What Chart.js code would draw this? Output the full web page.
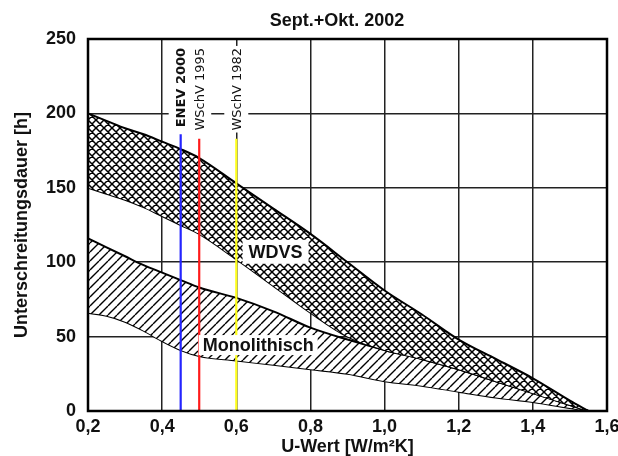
<!DOCTYPE html>
<html>
<head>
<meta charset="utf-8">
<script src="https://cdn.jsdelivr.net/npm/chart.js@4.4.1/dist/chart.umd.min.js"></script>
<style>
    html, body { margin: 0; padding: 0; background: #fff; }
    #wrap { width: 618px; height: 456px; }
</style>
</head>
<body>
<div id="wrap"><canvas id="chart" width="618" height="456"></canvas></div>
<script>
// U-Wert (x) and Unterschreitungsdauer in h (y)
const uWert     = [0.2, 0.25, 0.3, 0.35, 0.4, 0.45, 0.5, 0.6, 0.7, 0.8, 0.9, 1.0, 1.1, 1.2, 1.3, 1.4, 1.5, 1.55];
const wdvsOben  = [200, 195, 190, 186, 181, 176, 170, 153, 136, 119, 100, 81, 65, 48, 35, 22, 7, 0];
const wdvsUnten = [150, 146, 142, 137, 131, 125, 119, 102, 84, 66, 50, 41, 35, 28, 20, 12, 4, 0];
const monoOben  = [116, 110, 104, 98, 93, 88, 83, 76, 67, 56, 48, 41, 35, 28, 20, 12, 4, 0];
const monoUnten = [66, 64, 60, 54, 47, 41, 37, 34, 31, 28, 25, 20, 17, 13, 9, 6, 2, 0];

// Standard lines
const markerNames = ['ENEV 2000', 'WSchV 1995', 'WSchV 1982'];
const markerU     = [0.45, 0.5, 0.6];
const markerTop   = [186, 183, 183];

const xTicks = [0.2, 0.4, 0.6, 0.8, 1.0, 1.2, 1.4, 1.6];
const yTicks = [0, 50, 100, 150, 200, 250];

const colors = {
    ink: '#111111',
    grid: '#222222',
    blue: '#2424ff',
    red: '#ff1a1a',
    yellow: '#ffff1a'
};
const markerColors = [colors.blue, colors.red, colors.yellow];
const markerBold = [true, false, false];

const FONT = "'Liberation Sans', Arial, sans-serif";

function points(ys) {
    return uWert.map((u, i) => ({ x: u, y: ys[i] }));
}

function makePattern(size, cross, lw) {
    const c = document.createElement('canvas');
    c.width = size; c.height = size;
    const g = c.getContext('2d');
    g.fillStyle = '#fff';
    g.fillRect(0, 0, size, size);
    g.strokeStyle = '#000';
    g.lineWidth = lw;
    g.beginPath();
    for (let k = -1; k <= 1; k++) {
        g.moveTo(k * size, size); g.lineTo(k * size + size, 0);
        if (cross) { g.moveTo(k * size, 0); g.lineTo(k * size + size, size); }
    }
    g.stroke();
    return g.createPattern(c, 'repeat');
}

const crossHatch = makePattern(8, true, 1.5);
const diagHatch = makePattern(9, false, 1.4);

const band = (label, ys, fill, bg) => ({
    label, data: points(ys), fill, backgroundColor: bg,
    borderColor: '#000', borderWidth: 2, pointRadius: 0,
    cubicInterpolationMode: 'monotone'
});

const markerSets = markerU.map((u, i) => ({
    label: markerNames[i],
    data: [{ x: u, y: 0 }, { x: u, y: markerTop[i] }],
    borderColor: markerColors[i], borderWidth: 2.2,
    pointRadius: 0, fill: false
}));

// Frame, title and in-plot labels
const decor = {
    id: 'decor',
    afterDatasetsDraw(chart) {
        const { ctx, chartArea: a, scales: { x, y } } = chart;
        ctx.save();
        ctx.strokeStyle = '#000';
        ctx.lineWidth = 2.5;
        ctx.strokeRect(a.left, a.top, a.right - a.left, a.bottom - a.top);

        // rotated marker labels
        markerU.forEach((u, i) => {
            const px = x.getPixelForValue(u), py = y.getPixelForValue(244);
            ctx.save();
            ctx.translate(px, py);
            ctx.rotate(-Math.PI / 2);
            ctx.font = (markerBold[i] ? 'bold ' : '') + "13px 'DejaVu Sans', sans-serif";
            const w = ctx.measureText(markerNames[i]).width;
            ctx.fillStyle = '#fff';
            ctx.fillRect(-w - 2, -12, w + 4, 24);
            ctx.fillStyle = colors.ink;
            ctx.textAlign = 'right';
            ctx.textBaseline = 'middle';
            ctx.fillText(markerNames[i], 0, 1);
            ctx.restore();
        });

        // band names
        ctx.font = 'bold 18px ' + FONT;
        ctx.textAlign = 'center';
        ctx.textBaseline = 'middle';
        [['WDVS', 0.706, 107, 6, 5], ['Monolithisch', 0.659, 44.3, 4, 3]].forEach(([t, u, h, px, py]) => {
            const cx = x.getPixelForValue(u), cy = y.getPixelForValue(h);
            const w = ctx.measureText(t).width;
            ctx.fillStyle = '#fff';
            ctx.fillRect(cx - w / 2 - px, cy - 7 - py, w + 2 * px, 14 + 2 * py);
            ctx.fillStyle = colors.ink;
            ctx.fillText(t, cx, cy + 1);
        });

        // title
        ctx.fillText('Sept.+Okt. 2002', 337, 21);
        ctx.restore();
    }
};

new Chart(document.getElementById('chart'), {
    type: 'line',
    data: {
        datasets: [
            ...markerSets,
            band('WDVS', wdvsOben, '+1', crossHatch),
            band('WDVS unten', wdvsUnten, false, 'transparent'),
            band('Monolithisch', monoOben, '+1', diagHatch),
            band('Monolithisch unten', monoUnten, false, 'transparent')
        ]
    },
    options: {
        responsive: false,
        animation: false,
        layout: { padding: { top: 39, right: 11, left: 0, bottom: 0 } },
        plugins: { legend: { display: false }, tooltip: { enabled: false } },
        scales: {
            x: {
                type: 'linear', min: 0.2, max: 1.6,
                afterBuildTicks: s => { s.ticks = xTicks.map(v => ({ value: v })); },
                afterFit: s => { s.height = 45; s.paddingRight = 0; s.paddingLeft = 0; },
                ticks: {
                    color: colors.ink, padding: 5,
                    font: { family: FONT, size: 18, weight: 'bold' },
                    callback: v => v.toFixed(1).replace('.', ',')
                },
                grid: { color: colors.grid, lineWidth: 1.5, drawTicks: false },
                border: { display: false },
                title: {
                    display: true, text: 'U-Wert [W/m²K]', color: colors.ink,
                    font: { family: FONT, size: 18, weight: 'bold', lineHeight: 1 },
                    padding: 0
                }
            },
            y: {
                min: 0, max: 250,
                afterBuildTicks: s => { s.ticks = yTicks.map(v => ({ value: v })); },
                afterFit: s => { s.width = 88; },
                ticks: {
                    color: colors.ink, padding: 12,
                    font: { family: FONT, size: 18, weight: 'bold' }
                },
                grid: { color: colors.grid, lineWidth: 1.5, drawTicks: false },
                border: { display: false },
                title: {
                    display: true, text: 'Unterschreitungsdauer [h]', color: colors.ink,
                    font: { family: FONT, size: 18, weight: 'bold' },
                    padding: { top: 11, bottom: 0 }
                }
            }
        }
    },
    plugins: [decor]
});
</script>
</body>
</html>
